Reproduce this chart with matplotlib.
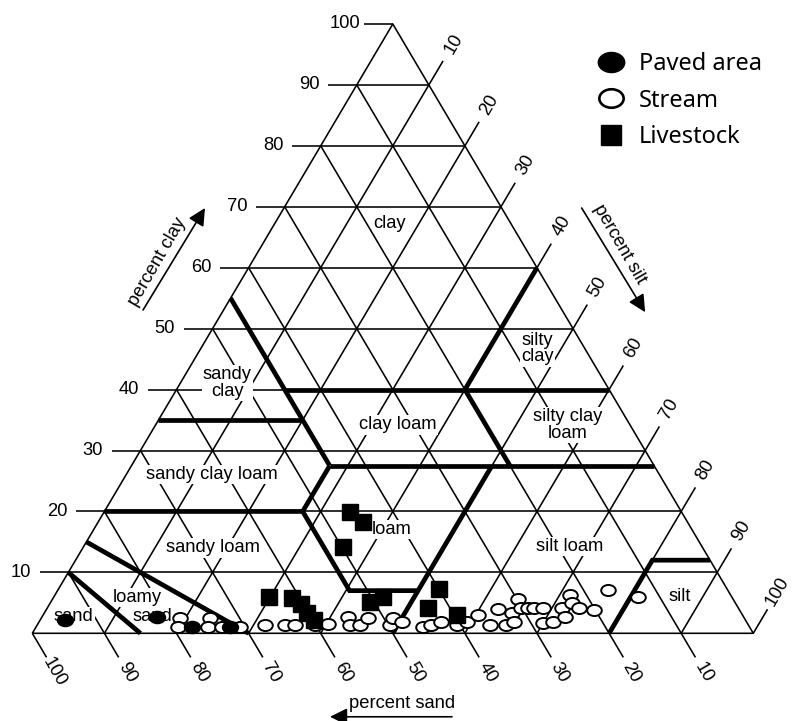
import numpy as np
import matplotlib
matplotlib.use("agg")
import matplotlib.pyplot as plt
from matplotlib import font_manager
from matplotlib.lines import Line2D
from matplotlib.path import Path
from matplotlib.transforms import Affine2D

# samples as percent sand / percent clay, silt is whatever is left
paved_sand = [94.3, 81.4, 77.3, 72.1]
paved_clay = [2.2, 2.7, 1.0, 1.0]

stream_sand = [78.3, 79.3, 74.1, 75.1, 73.2, 70.7, 67.0, 64.3, 62.9, 60.1,
               58.2, 54.9, 55.3, 53.9, 52.2, 49.7, 48.7, 47.8, 45.3, 44.0,
               42.3, 40.4, 38.8, 36.7, 35.8, 33.4, 33.6, 31.8, 32.3, 29.9,
               30.1, 29.2, 28.3, 27.1, 28.3, 26.9, 24.5, 24.8, 22.3, 22.7,
               22.1, 20.2, 16.6, 13.0]
stream_clay = [2.5, 1.0, 2.5, 1.0, 1.0, 1.0, 1.4, 1.4, 1.4, 1.4,
               1.5, 2.7, 1.4, 1.4, 2.5, 1.4, 2.5, 1.9, 1.0, 1.4,
               1.9, 1.4, 1.9, 3.0, 1.4, 4.0, 1.4, 3.3, 1.9, 5.6,
               4.2, 4.2, 4.2, 4.2, 1.7, 1.9, 4.2, 2.7, 6.3, 5.0,
               4.2, 3.8, 7.1, 6.0]

livestock_sand = [46.0, 45.0, 49.8, 64.2, 61.1, 60.3, 60.2, 59.8, 50.6, 48.4, 40.0, 43.0, 39.6]
livestock_clay = [19.9, 18.3, 14.2, 5.9, 5.8, 4.8, 3.3, 2.2, 5.1, 6.0, 7.2, 4.2, 3.0]

series_names = ["Paved area", "Stream", "Livestock"]
tick_values = list(range(10, 101, 10))

# USDA texture class borders, each as a polyline of (sand, clay)
class_borders = [
    [(85, 0), (90, 10)],
    [(70, 0), (85, 15)],
    [(80, 20), (52.5, 20), (52.5, 7), (43, 7)],
    [(50, 0), (22.5, 27.5)],
    [(52.5, 20), (45, 27.5)],
    [(45, 27.5), (0, 27.5)],
    [(45, 27.5), (45, 55)],
    [(65, 35), (45, 35)],
    [(45, 40), (0, 40)],
    [(20, 27.5), (20, 40), (0, 60)],
    [(20, 0), (8, 12), (0, 12)],
]


def tern(sand, clay):
    """percent sand / clay -> x, y of the triangle (x along the base, y = clay)"""
    sand = np.asarray(sand, dtype=float)
    clay = np.asarray(clay, dtype=float)
    return 100.0 - sand - clay / 2.0, clay


names = {f.name for f in font_manager.fontManager.ttflist}
narrow = "Liberation Sans Narrow" if "Liberation Sans Narrow" in names else "Liberation Sans"
lab_size = 14.5 if narrow.endswith("Narrow") else 13.2
num_size = 14 if narrow.endswith("Narrow") else 13.2

fig = plt.figure(figsize=(7.92, 7.21), dpi=100)
ax = fig.add_axes([0, 0, 1, 1])
ax.axis("off")

# place the triangle: base from 32 to 753 px, apex at 24 px from the top
x0_px, x1_px, y0_px, y1_px = 32.3, 753.3, 633.3, 24.0
sx = (x1_px - x0_px) / 100.0
sy = (y0_px - y1_px) / 100.0
ax.set_xlim(-x0_px / sx, (792 - x0_px) / sx)
ax.set_ylim(-(721 - y0_px) / sy, y0_px / sy)

thin = dict(color="black", lw=1.15, solid_capstyle="butt", zorder=1)
thick = dict(color="black", lw=3.4, solid_capstyle="butt", solid_joinstyle="miter", zorder=4)

# outline + 10% grid
ax.plot(*tern([100, 0, 0, 100], [0, 0, 100, 0]), **thin)
for k in range(10, 100, 10):
    ax.plot(*tern([100 - k, 0], [k, k]), **thin)        # clay
    ax.plot(*tern([100 - k, 0], [0, 100 - k]), **thin)  # silt
    ax.plot(*tern([k, k], [0, 100 - k]), **thin)        # sand

for seg in class_borders:
    s, c = zip(*seg)
    ax.plot(*tern(s, c), **thick)

# ticks and numbers on the three sides
tick_len, lab_off = 3.95, 6.6
for k in tick_values:
    x, y = tern(100 - k, k)
    ax.plot([x - tick_len, x], [y, y], **thin)
    ax.text(x - lab_off, y, str(k), ha="center", va="center", fontsize=num_size, family=narrow)

    x, y = tern(0, 100 - k)
    ax.plot([x, x + tick_len / 2], [y, y + tick_len], **thin)
    ax.text(x + lab_off / 2 + 0.1, y + lab_off + 0.2, str(k), ha="center", va="center",
            rotation=60, rotation_mode="anchor", fontsize=num_size, family=narrow)

    x, y = tern(k, 0)
    ax.plot([x, x + tick_len / 2], [y, y - tick_len], **thin)
    ax.text(x + 3.1, y - 6.4, str(k), ha="center", va="center",
            rotation=-60, rotation_mode="anchor", fontsize=num_size, family=narrow)

# class names
box = dict(facecolor="white", edgecolor="none", pad=0.8)
class_labels = [
    ("clay", 16.8, 67.2),
    ("silty\nclay", 6.6, 46.7),
    ("sandy\nclay", 52.4, 41.1),
    ("clay loam", 32.2, 34.2),
    ("silty clay\nloam", 8.7, 34.2),
    ("sandy clay loam", 62.1, 26.0),
    ("loam", 41.6, 17.0),
    ("sandy loam", 67.9, 14.0),
    ("loamy", 82.5, 5.9),
    ("sand", 82.0, 2.7),
    ("sand", 92.9, 2.7),
    ("silt loam", 18.3, 14.2),
    ("silt", 7.2, 6.0),
]
for txt, s, c in class_labels:
    x, y = tern(s, c)
    ax.text(x, y, txt, ha="center", va="center", multialignment="center",
            linespacing=0.95, fontsize=lab_size, family=narrow, bbox=box, zorder=3)

# axis names with arrows
arrow = dict(arrowstyle="-|>", color="black", lw=1.2, mutation_scale=26,
             shrinkA=0, shrinkB=0)
ax.annotate("", xy=(23.95, 69.8), xytext=(15.36, 53.06), arrowprops=arrow)
ax.text(17.3, 60.9, "percent clay", rotation=60, ha="center", va="center",
        rotation_mode="anchor", fontsize=lab_size, family=narrow)
ax.annotate("", xy=(85.0, 52.7), xytext=(76.2, 69.8), arrowprops=arrow)
ax.text(81.5, 63.9, "percent silt", rotation=-60, ha="center", va="center",
        rotation_mode="anchor", fontsize=lab_size, family=narrow)
ax.annotate("", xy=(41.3, -13.7), xytext=(58.2, -13.7), arrowprops=arrow)
ax.text(51.3, -11.6, "percent sand", ha="center", va="center", fontsize=lab_size, family=narrow)

# slightly flattened circle, like the scanned markers
ellipse = Path.unit_circle().transformed(Affine2D().scale(1.0, 0.76))

ax.plot(*tern(stream_sand, stream_clay), ls="none", marker=ellipse, ms=10.5,
        mfc="white", mec="black", mew=1.4, zorder=5)
ax.plot(*tern(livestock_sand, livestock_clay), ls="none", marker="s", ms=11,
        mfc="black", mec="black", zorder=6)
ax.plot(*tern(paved_sand, paved_clay), ls="none", marker=ellipse, ms=11.5,
        mfc="black", mec="black", zorder=7)

handles = [
    Line2D([], [], ls="none", marker=ellipse, ms=19, mfc="black", mec="black"),
    Line2D([], [], ls="none", marker=ellipse, ms=17.5, mfc="white", mec="black", mew=1.9),
    Line2D([], [], ls="none", marker="s", ms=14.5, mfc="black", mec="black"),
]
ax.legend(handles, series_names, loc="upper left", bbox_to_anchor=(599 / 792, 1 - 52 / 721),
          frameon=False, borderpad=0, borderaxespad=0, handlelength=1.0,
          handletextpad=0.7, labelspacing=0.53, prop={"family": "Noto Sans", "size": 17})

fig.savefig("out.png", dpi=100)
